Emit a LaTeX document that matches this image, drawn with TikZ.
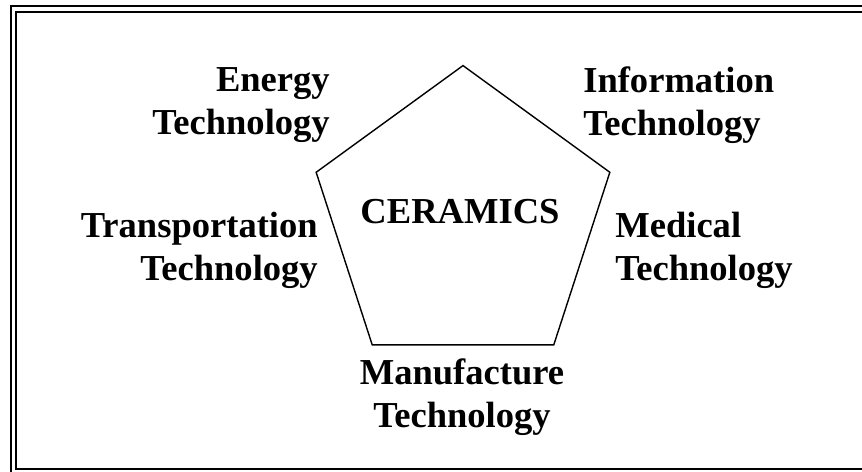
\documentclass[tikz,border=0pt]{standalone}
\usepackage{fontspec}
\setmainfont{Liberation Serif}

\tikzset{
  tech/.style={font=\bfseries\fontsize{26}{30.5}\selectfont, inner sep=0pt},
  frame/.style={line width=1.4pt},
}

\begin{document}
\begin{tikzpicture}
\useasboundingbox (0,0) rectangle (21.55,11.8);

% double frame (runs off on the right and at the bottom)
\draw [frame] (0.275,-0.3) rectangle (22,11.66);
\draw [frame] (0.41,0.075) rectangle (21.8,11.49);

% pentagon corners
\coordinate (p1) at (11.575,10.16);
\coordinate (p2) at (7.904,7.493);
\coordinate (p3) at (9.306,3.177);
\coordinate (p4) at (13.844,3.177);
\coordinate (p5) at (15.246,7.493);
\draw [line width=1pt] (p1) -- (p2) -- (p3) -- (p4) -- (p5) -- cycle;

\node [tech] (cer) at (11.5,6.51) {CERAMICS};

\node [tech, align=right, anchor=east] (energy) at (8.25,9.17) {Energy\\Technology};
\node [tech, align=left, anchor=west] (info) at (14.575,9.17) {Information\\Technology};
\node [tech, align=right, anchor=east] (trans) at (7.95,5.54) {Transportation\\Technology};
\node [tech, align=left, anchor=west] (med) at (15.375,5.54) {Medical\\Technology};
\node [tech, align=center] (manu) at (11.55,1.88) {Manufacture\\Technology};
\end{tikzpicture}
\end{document}
